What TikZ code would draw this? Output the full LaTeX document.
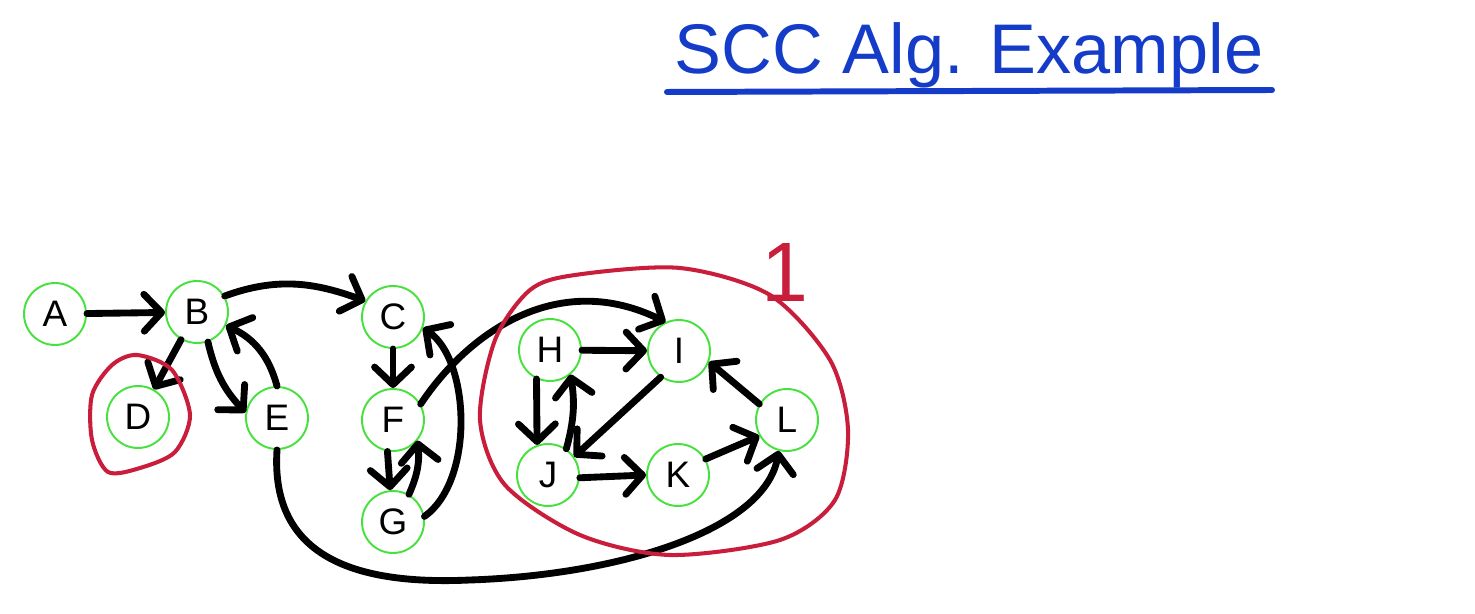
\documentclass[tikz,border=0pt]{standalone}
\usepackage{fontspec}
\setmainfont{Liberation Sans}
\usetikzlibrary{arrows.meta, positioning}
\definecolor{sccred}{RGB}{200,30,60}
\definecolor{penblue}{RGB}{20,60,200}
\definecolor{ringgreen}{RGB}{70,225,60}

\tikzset{
  vertex/.style={circle, draw=ringgreen, line width=1.1pt, minimum size=1.24cm, inner sep=0pt, font=\fontsize{21}{21}\selectfont},
  edge/.style={line width=3.9pt, line cap=round, -{Straight Barb[length=10pt, width=21pt, round]}},
  scc/.style={draw=sccred, line width=2.3pt, line cap=round}
}

\begin{document}
\begin{tikzpicture}[x=0.02cm, y=-0.02cm]
\useasboundingbox (0,0) rectangle (1475,614);

% title
\node[anchor=base, text=penblue, font=\fontsize{40}{40}\selectfont] (title) at (969,74) {SCC Alg. Example};
\draw[penblue, line width=3.4pt, line cap=round] (667,92) -- (1272,90);

% vertices
\node[vertex] (A) at (55,314) {A};
\node[vertex] (B) at (197,312) {B};
\node[vertex] (C) at (393,317) {C};
\node[vertex] (D) at (138,417) {D};
\node[vertex] (E) at (277,418) {E};
\node[vertex] (F) at (393,420) {F};
\node[vertex] (G) at (393,522) {G};
\node[vertex] (H) at (550,350) {H};
\node[vertex] (I) at (679,351) {I};
\node[vertex] (J) at (548,475) {J};
\node[vertex] (K) at (678,475) {K};
\node[vertex] (L) at (787,420) {L};

% edges
\draw[edge] (A) -- (B);
\draw[edge] (B.30) to[out=20, in=160] (C.150);
\draw[edge] (B.240) -- (D.60);
\draw[edge] (B.290) to[bend right=15] (E.170);
\draw[edge] (E.north) to[bend right=25] (B.-25);
\draw[edge] (C) -- (F);
\draw[edge] (F.260) -- (G.95);
\draw[edge] (G.60) to[bend right=15] (F.-40);
\draw[edge] (G.10) .. controls (475,480) and (470,360) .. (C.-20);
\draw[edge] (F.30) .. controls (470,330) and (560,270) .. (I.115);
\draw[edge] (E.270) .. controls (270,560) and (360,585) .. (470,580) .. controls (620,575) and (765,530) .. (L.255);
\draw[edge] (H) -- (I);
\draw[edge] (H.245) -- (J.110);
\draw[edge] (J.55) to[bend right=12] (H.-50);
\draw[edge] (I.235) -- (J.35);
\draw[edge] (J.-5) -- (K.180);
\draw[edge] (K.30) -- (L.210);
\draw[edge] (L.150) -- (I.-20);

% components
\draw[scc] plot[smooth cycle] coordinates {(137,355) (172,370) (190,415) (175,452) (140,468) (108,472) (92,440) (92,395) (112,365)};
\draw[scc] plot[smooth cycle] coordinates {(575,275) (680,268) (770,295) (830,360) (848,430) (835,500) (780,540) (670,555) (580,535) (505,485) (480,420) (495,340) (530,290)};
\node[text=sccred, font=\fontsize{48}{48}\selectfont] (one) at (785,272) {1};
\end{tikzpicture}
\end{document}
